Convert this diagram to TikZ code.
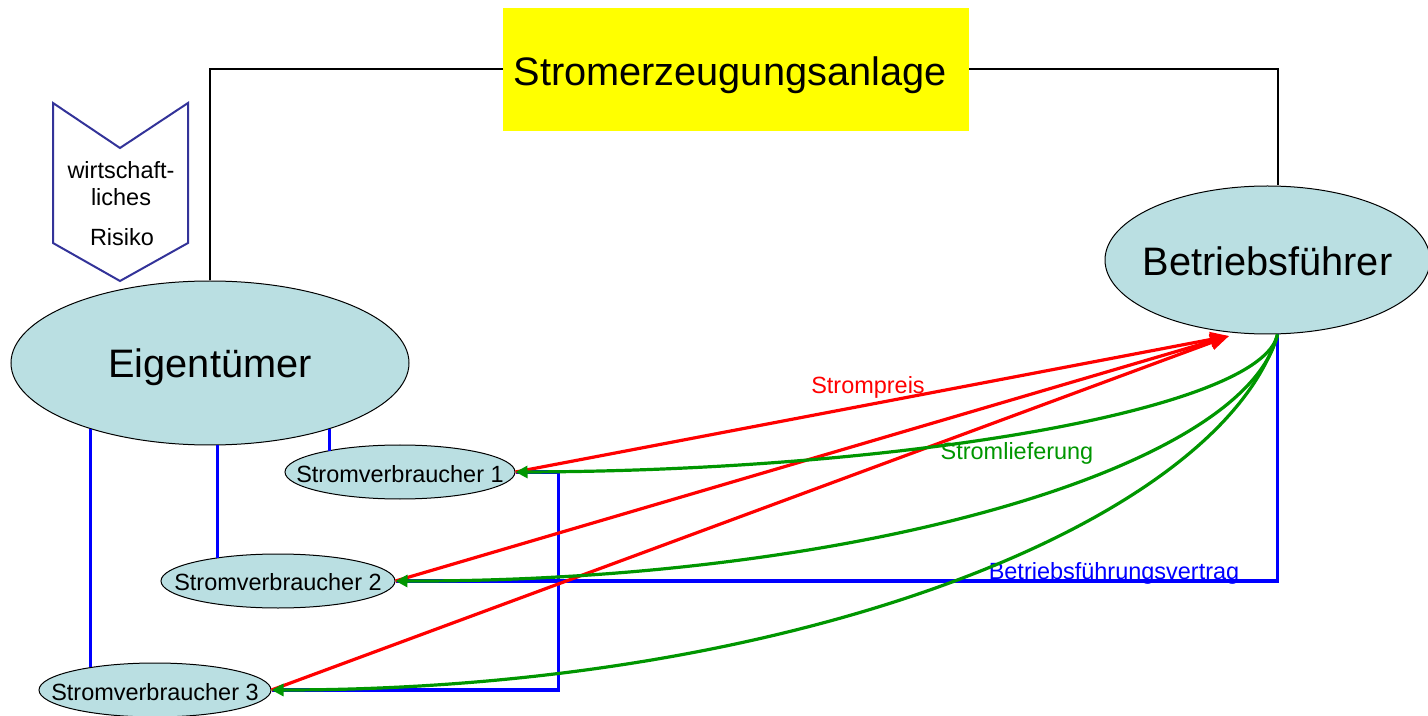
\documentclass[tikz,border=0pt]{standalone}
\usepackage{fontspec}
\setmainfont{Liberation Sans}
\usetikzlibrary{shapes.geometric,arrows.meta,calc}
\definecolor{cellfill}{RGB}{186,223,226}
\definecolor{plantyellow}{RGB}{255,255,0}
\definecolor{chevblue}{RGB}{51,51,153}
\definecolor{flowgreen}{RGB}{0,150,0}
% label of no size, its baseline set #1 below the node centre
\newcommand{\nowidth}[2]{\raisebox{-#1}[0pt][0pt]{\makebox[0pt]{#2}}}
\tikzset{
  party/.style={ellipse, draw=black, line width=0.75pt, fill=cellfill, inner sep=0pt},
  bigtext/.style={font=\fontsize{29.8}{34}\selectfont},
  smalltext/.style={font=\fontsize{17.6}{20}\selectfont},
  consumer/.style={party, smalltext, minimum height=40.5pt},
  ownerline/.style={draw=black, line width=1.5pt},
  contract/.style={draw=blue, line width=2.4pt},
  price/.style={draw=red, line width=2.4pt, -{Triangle[length=14pt,width=11pt]}},
  supply/.style={draw=flowgreen, line width=2.4pt, -{Triangle[length=9pt,width=9pt]}},
}
\begin{document}
\begin{tikzpicture}[x=0.75pt, y=-0.75pt]
  \useasboundingbox (0,0) rectangle (1428,716);
  \clip (0,0) rectangle (1428,716);

  % plant, owner and operator
  \node[fill=plantyellow, minimum width=349.5pt, minimum height=92.25pt, inner sep=0pt, bigtext] (anlage) at (736,69.5) {\hspace*{-9pt}\nowidth{12.2pt}{Stromerzeugungsanlage}};
  \node[party, bigtext, minimum width=298.5pt, minimum height=123pt] (eig) at (210,363) {\nowidth{10.7pt}{Eigentümer}};
  \node[party, bigtext, minimum width=243.75pt, minimum height=111pt] (bf) at (1267.5,260) {\nowidth{11.5pt}{Betriebsführer}};

  % consumers
  \node[consumer, minimum width=172.5pt] (sv1) at (400,472) {\nowidth{7.6pt}{Stromverbraucher 1}};
  \node[consumer, minimum width=175.5pt] (sv2) at (278,581) {\nowidth{7.4pt}{Stromverbraucher 2}};
  \node[consumer, minimum width=174pt] (sv3) at (155,690) {\nowidth{7.5pt}{Stromverbraucher 3}};

  % ownership line across the plant
  \draw[ownerline] (eig.north) |- (anlage.west);
  \draw[ownerline] (anlage.east) -| ([xshift=7.5pt]bf.north);

  % economic risk chevron
  \draw[chevblue, line width=1.5pt, line join=miter]
    (53,103) -- (120,148) -- (188,103) -- (188,243) -- (120,281) -- (53,243) -- cycle;
  \node[smalltext] (r1) at (121,170) {wirtschaft-};
  \node[smalltext] (r2) at (121,197) {liches};
  \node[smalltext] (r3) at (122,237) {Risiko};

  % owner to consumers
  \draw[contract] (eig.-29.9) -- (eig.-29.9 |- sv1.164.4);
  \draw[contract] (eig.-85.8) -- (eig.-85.8 |- sv2.159.7);
  \draw[contract] (eig.209.5) -- (eig.209.5 |- sv3.159.8);

  % operating contract
  \coordinate (lief) at ([xshift=7.5pt]bf.south);
  \draw[contract] (lief) |- (sv2.east);
  \draw[contract] (sv1.east) -- ++(43,0) |- (sv3.east);
  \node[smalltext, text=blue] (vertrag) at (1114,573) {Betriebsführungsvertrag};

  % electricity price
  \coordinate (preis) at (1229,336);
  \draw[price] (sv1.east) -- (preis);
  \draw[price] (sv2.east) -- (preis);
  \draw[price] (sv3.east) -- (preis);
  \node[smalltext, text=red] (preislabel) at (868,387) {Strompreis};

  % electricity supply
  \draw[supply] (lief) .. controls (1262,410) and (900,471) .. (sv1.east);
  \draw[supply] (lief) .. controls (1245,470) and (850,582) .. (sv2.east);
  \draw[supply] (lief) .. controls (1220,520) and (800,690) .. (sv3.east);
  \node[smalltext, text=flowgreen] (lieflabel) at (1017,453) {Stromlieferung};
\end{tikzpicture}
\end{document}
